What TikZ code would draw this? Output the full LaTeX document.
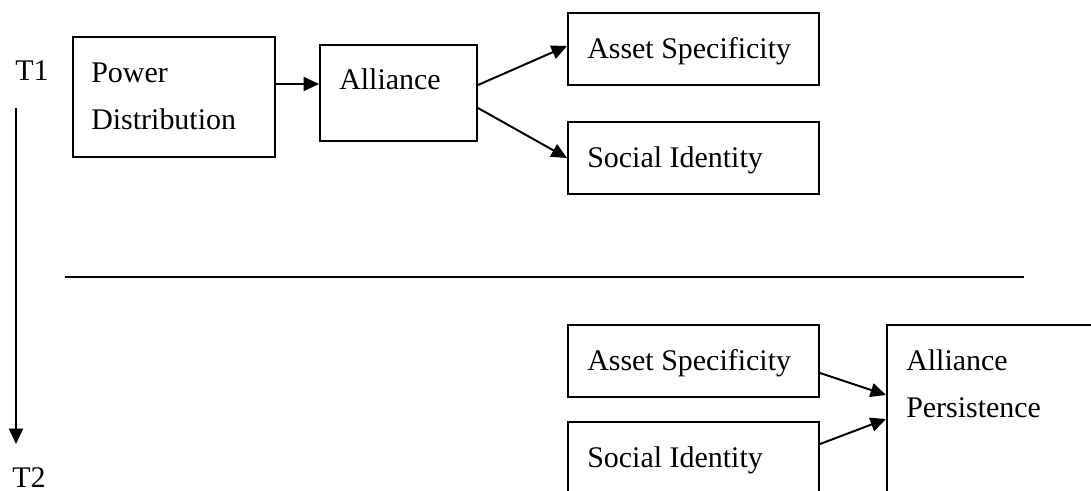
\documentclass[tikz,border=0pt]{standalone}
\usepackage{fontspec}
\setmainfont{Liberation Serif}
\usetikzlibrary{arrows.meta,calc,positioning}

\begin{document}
\begin{tikzpicture}[x=0.025cm,y=-0.025cm,line join=miter,
 >={Triangle[length=11pt,width=10pt]},
 box/.style={draw,line width=1.4pt,rectangle,inner sep=0pt},
 txt/.style={anchor=base west,inner sep=0pt,align=left,
  font=\fontsize{21.3}{34.1}\selectfont},
 link/.style={->,line width=1.4pt}]
\useasboundingbox (0,0) rectangle (1091,491);
\clip (0,0) rectangle (1091,491);
% T1 part
\node[box,minimum width=5.05cm,minimum height=3cm] (pd) at (174,97) {};
\node[box,minimum width=3.925cm,minimum height=2.4cm] (al) at (398.5,93) {};
\node[box,minimum width=6.275cm,minimum height=1.8cm] (as1) at (693.5,49) {};
\node[box,minimum width=6.275cm,minimum height=1.8cm] (si1) at (693.5,158) {};
\node[txt] (pdtxt) at ($(pd.north west)+(19,94)$) {Power\\Distribution};
\node[txt] (altxt) at ($(al.north west)+(20,46)$) {Alliance};
\node[txt] (as1txt) at ($(as1.north west)+(20,46)$) {Asset Specificity};
\node[txt] (si1txt) at ($(si1.north west)+(20,46)$) {Social Identity};
\draw[link] ($(pd.east)+(0,-13)$) coordinate (pa) -- (al.west |- pa);
\draw[link] ($(al.east)+(0,-8)$) -- ($(as1.west)+(0,-3)$);
\draw[link] ($(al.east)+(0,15)$) -- (si1.west);
% T2 part
\node[box,minimum width=6.275cm,minimum height=1.8cm] (as2) at (693.5,361) {};
\node[box,minimum width=6.275cm,minimum height=1.8cm] (si2) at (693.5,458) {};
\node[box,minimum width=5.825cm,minimum height=4.875cm] (ap) at (1003.5,422.5) {};
\node[txt] (as2txt) at ($(as2.north west)+(20,46)$) {Asset Specificity};
\node[txt] (si2txt) at ($(si2.north west)+(20,46)$) {Social Identity};
\node[txt] (aptxt) at ($(ap.north west)+(20,94)$) {Alliance\\Persistence};
\draw[link] ($(as2.east)+(0,12)$) -- ($(ap.north west)+(0,71)$);
\draw[link] ($(si2.east)+(0,-14)$) -- ($(ap.north west)+(0,95)$);
% time axis and divider
\node[txt] (t1) at (15,81) {T1};
\node[txt] (t2) at (12,487) {T2};
\coordinate (tstart) at (16,108);
\coordinate (tend) at (16,444);
\draw[link] (tstart) -- (tend);
\coordinate (dl) at (65,277);
\coordinate (dr) at (1024,277);
\draw[line width=1.4pt] (dl) -- (dr);
\end{tikzpicture}
\end{document}
